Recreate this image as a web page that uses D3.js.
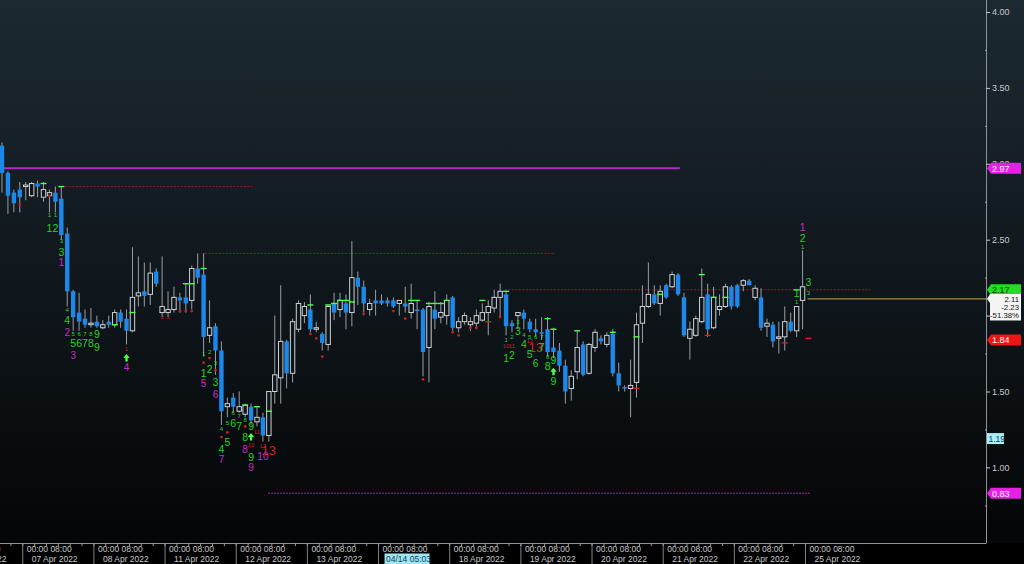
<!DOCTYPE html>
<html><head><meta charset="utf-8">
<script src="https://cdn.jsdelivr.net/npm/d3@7"></script>
<style>html,body{margin:0;padding:0;background:#000;overflow:hidden}text{font-family:"Liberation Sans",Arial,sans-serif}</style>
</head><body><svg id="c" width="1024" height="564"></svg>
<script>
// ---------- DATA (2-hour bars, index 0..135) ----------
const openV  = [3.12,2.94,2.81,2.83,2.85,2.79,2.87,2.78,2.79,2.81,2.77,2.54,2.16,2.02,1.98,1.94,1.96,1.92,1.96,1.94,2.02,1.98,1.90,2.13,2.16,2.14,2.29,2.02,2.02,2.04,2.12,2.12,2.10,2.31,2.27,1.87,1.93,1.77,1.40,1.46,1.37,1.35,1.40,1.30,1.33,1.21,1.50,1.59,1.83,1.62,1.91,2.00,2.04,1.91,1.88,1.81,2.08,2.04,2.08,2.02,2.25,2.19,2.04,2.10,2.10,2.10,2.10,2.08,2.08,2.02,2.04,2.04,1.79,2.04,1.99,2.00,2.12,1.92,1.96,1.94,1.95,1.97,2.02,2.05,2.12,2.14,1.95,2.00,2.02,1.96,1.91,1.89,1.91,1.79,1.77,1.67,1.52,1.63,1.81,1.62,1.79,1.85,1.81,1.88,1.62,1.53,1.52,1.56,1.95,2.06,2.14,2.08,2.20,2.19,2.27,2.12,1.85,1.87,1.96,2.14,1.92,2.04,2.06,2.19,2.20,2.20,2.23,2.12,2.12,1.93,1.94,1.85,1.86,1.96,1.90,2.10];
const highV  = [3.14,2.95,2.83,2.88,2.88,2.88,2.89,2.88,2.83,2.85,2.85,2.58,2.17,2.15,2.04,2.05,2.00,1.97,2.00,2.04,2.04,2.04,2.45,2.39,2.35,2.35,2.31,2.39,2.16,2.19,2.15,2.21,2.33,2.41,2.41,2.10,1.95,1.83,1.46,1.49,1.50,1.42,1.42,1.40,1.36,1.50,2.00,2.20,1.84,1.98,2.10,2.09,2.14,1.96,1.89,2.07,2.15,2.15,2.14,2.49,2.29,2.23,2.11,2.17,2.14,2.12,2.12,2.10,2.19,2.21,2.10,2.05,2.09,2.16,2.09,2.14,2.13,1.99,2.02,1.99,2.04,2.08,2.10,2.17,2.21,2.16,1.97,2.02,2.04,1.98,1.98,1.99,1.99,1.92,1.82,1.71,1.64,1.90,1.83,1.82,1.91,1.87,1.89,1.91,1.69,1.54,1.71,2.02,2.20,2.35,2.20,2.20,2.21,2.29,2.28,2.15,1.96,2.00,2.31,2.21,2.19,2.14,2.21,2.20,2.21,2.24,2.24,2.20,2.18,1.98,1.96,1.96,2.06,2.02,2.06,2.43];
const lowV   = [2.81,2.67,2.68,2.68,2.76,2.78,2.78,2.75,2.68,2.68,2.50,2.06,1.90,1.90,1.92,1.92,1.92,1.91,1.92,1.92,1.92,1.81,1.89,2.06,2.06,2.07,2.19,1.99,1.99,2.02,2.02,2.02,2.04,2.21,1.73,1.82,1.61,1.28,1.33,1.36,1.36,1.33,1.28,1.27,1.17,1.17,1.42,1.42,1.52,1.56,1.89,1.95,1.89,1.89,1.77,1.77,1.97,1.99,1.91,1.93,2.07,2.02,2.00,2.00,2.07,2.06,2.05,2.00,2.02,1.98,1.91,1.60,1.56,1.91,1.95,1.94,1.90,1.89,1.94,1.90,1.91,1.96,1.87,2.02,1.99,1.87,1.89,1.91,1.91,1.89,1.86,1.84,1.73,1.72,1.63,1.42,1.44,1.58,1.60,1.61,1.76,1.81,1.79,1.60,1.50,1.50,1.33,1.46,1.82,2.05,2.07,2.00,2.11,2.18,2.13,1.86,1.71,1.86,1.95,1.86,1.91,2.00,2.05,2.04,2.05,2.16,2.20,2.10,1.90,1.86,1.79,1.75,1.77,1.89,1.86,1.91];
const closeV = [2.94,2.79,2.74,2.78,2.86,2.87,2.85,2.83,2.81,2.75,2.53,2.16,1.99,1.96,1.94,1.95,1.93,1.94,1.94,2.02,1.96,1.90,2.12,2.15,2.13,2.28,2.21,2.06,2.04,2.12,2.10,2.08,2.31,2.25,1.86,1.92,1.77,1.37,1.42,1.40,1.40,1.41,1.31,1.33,1.21,1.50,1.61,1.83,1.62,1.96,2.08,2.06,1.91,1.92,1.82,2.06,2.02,2.10,2.02,2.25,2.19,2.08,2.08,2.08,2.08,2.08,2.06,2.10,2.06,2.08,2.03,1.76,2.06,1.98,2.02,2.10,1.92,1.96,2.00,1.96,2.00,2.02,2.06,2.12,2.16,1.93,1.93,2.02,1.98,1.91,1.89,1.88,1.76,1.76,1.67,1.50,1.60,1.79,1.61,1.81,1.89,1.83,1.87,1.62,1.54,1.52,1.54,1.94,2.06,2.14,2.08,2.16,2.12,2.27,2.14,1.87,1.91,1.98,2.12,1.91,2.12,2.06,2.19,2.06,2.06,2.23,2.20,2.18,1.92,1.95,1.83,1.86,1.96,1.90,2.06,2.19];

// x-axis day boxes
const dayStartBar = [-8,4,16,28,40,52,64,76,88,100,112,124,136];
const dayLabels   = ["06 Apr 2022","07 Apr 2022","08 Apr 2022","11 Apr 2022","12 Apr 2022","13 Apr 2022","04/14 05:03","18 Apr 2022","19 Apr 2022","20 Apr 2022","21 Apr 2022","22 Apr 2022","25 Apr 2022"];
const sessionLabel = "00:00 08:00";
const highlightDay = "04/14 05:03";

// y-axis
const yMajor = [1.00,1.50,2.00,2.50,3.00,3.50,4.00];
const yMinor = [0.75,1.25,1.75,2.25,2.75,3.25,3.75];

// horizontal levels
const levelValue   = [2.97,2.85,2.41,2.17,0.83];
const levelFromBar = [-1,10.1,34.2,84.8,44.9];
const levelToBar   = [114.3,42.2,93.3,146.4,136.3];
const levelKind    = ["solidM","dotR","dotR","dotR","dotM"];
const lastPrice = 2.11;

// right-side price tags
const tagValue = [2.97,2.17,1.84,1.19,0.83];
const tagText  = ["2.97","2.17","1.84","1.19","0.83"];
const tagKind  = ["mag","grn","red","cyan","mag"];
const lastBoxLines = ["2.11","-2.23","-51.38%"];

// TD sequential annotations: bar, price level, text, kind
const tdBar   = [8,9,8,9,10,10,10,11,11,11,12,13,14,15,16,12,13,14,15,16,12,21,21,21,27,28,30,31,32,3,8,
  34,35,34,35,34,35,36,36,36,34,36,37,37,37,37,38,38,38,39,39,40,40,41,41,41,41,42,42,42,42,42,43,44,45,44,
  52,53,54,61,66,68,71,76,77,79,80,82,84,
  85,86,85,86,85,86,87,87,88,88,89,89,90,89,90,91,91,90,92,92,93,93,93,
  135,135,135,134,134,136,136,136,107,119,132];
const tdLevel = [2.66,2.66,2.58,2.58,2.49,2.42,2.35,2.04,1.97,1.89,1.88,1.88,1.88,1.88,1.88,1.82,1.82,1.82,1.82,1.79,1.74,1.78,1.72,1.66,1.99,1.99,2.03,2.03,2.03,2.73,2.79,
  1.75,1.76,1.69,1.72,1.62,1.65,1.69,1.64,1.56,1.55,1.48,1.25,1.20,1.12,1.05,1.29,1.23,1.17,1.36,1.29,1.34,1.27,1.31,1.27,1.20,1.12,1.27,1.20,1.15,1.07,1.00,1.23,1.14,1.11,1.07,
  1.88,1.85,1.73,2.01,2.03,1.98,1.58,1.89,1.87,1.92,1.92,1.96,1.99,
  1.84,1.86,1.80,1.80,1.72,1.74,1.96,1.90,1.87,1.81,1.83,1.75,1.79,1.86,1.86,1.86,1.79,1.69,1.73,1.67,1.71,1.63,1.57,
  2.58,2.51,2.45,2.15,2.09,2.22,2.15,1.85,1.52,1.87,1.82];
const tdText  = ["1","1","1","2","3","3","1","4","4","2","5","6","7","8","9","5","6","7","8","9","3","1","","4","2","3","","","","","",
  "1","2","","","1","2","3","","3","5","6","4","","4","7","5","","5","6","6","7","7","8","","8","8","9","","10","9","9","11","12","13","10",
  "","","","","","","","","","","","","",
  "1","2","10","11","1","2","3","3","4","4","12","5","13","5","6","7","7","6","8","8","9","","9",
  "1","2","1","1","1","3","3","","","",""];
const tdKind  = ["g","g","G","G","g","G","M","g","G","M","g","g","g","g","G","G","G","G","G","G","M","r","ga","M","r","r","rd","rd","rd","rd","rd",
  "g","g","rd","rd","G","G","g","rd","G","M","M","g","rd","G","M","g","rd","G","g","G","g","G","g","rd","G","M","G","ga","r","G","M","r","r","R","M",
  "rd","rd","rd","rd","rd","rd","rd","rd","rd","rd","rd","rdash","rd",
  "g","g","r","r","G","G","g","G","g","G","r","G","R","g","g","g","G","G","g","G","G","ga","G",
  "M","G","g","G","g","G","g","rdash","rdash","rdash","rdash"];

// TD setup-high dashes
const gDashBar   = [7,10,19,22,31,32,34,41,43,45,52,55,56,57,58,59,69,70,72,73,74,75,81,85,92,93,97,103,107,111,118,120,122,134];
const gDashLevel = [2.87,2.85,1.94,2.02,2.21,2.21,2.31,1.41,1.40,1.37,2.07,2.07,2.08,2.10,2.10,2.09,2.10,2.10,2.08,2.08,2.08,2.10,2.10,2.16,1.98,1.91,1.90,1.89,1.86,2.14,2.27,2.12,2.12,2.17];

// ---------- DRAW ----------
const W=1024,H=564,plotR=986,plotB=543;
const svg=d3.select("#c");
const defs=svg.append("defs");
const grad=defs.append("linearGradient").attr("id","bg").attr("x1",0).attr("y1",0).attr("x2",0).attr("y2",1);
grad.append("stop").attr("offset","0%").attr("stop-color","#1c2931");
grad.append("stop").attr("offset","55%").attr("stop-color","#0f161b");
grad.append("stop").attr("offset","100%").attr("stop-color","#040506");
svg.append("rect").attr("width",W).attr("height",plotB).attr("fill","url(#bg)");
svg.append("rect").attr("y",plotB).attr("width",W).attr("height",H-plotB).attr("fill","#000");
defs.append("clipPath").attr("id","clip").append("rect").attr("width",plotR).attr("height",plotB);

const x=d3.scaleLinear().domain([0,135]).range([2,802.55]);
const y=d3.scaleLinear().domain([0.5,4]).range([543.3,12]);
const step=x(1)-x(0);
const ly=y(lastPrice);

const plot=svg.append("g").attr("clip-path","url(#clip)");

// level lines
const lvlStyle={solidM:{c:"#b02cbf",w:2,d:null},dotR:{c:"#8a2222",w:1,d:"2,1.5"},dotM:{c:"#d42ad4",w:1,d:"1.5,1.5"}};
plot.selectAll("line.lvl").data(levelValue).join("line").attr("class","lvl")
 .attr("x1",(d,i)=>x(levelFromBar[i])).attr("x2",(d,i)=>x(levelToBar[i]))
 .attr("y1",d=>y(d)).attr("y2",d=>y(d))
 .attr("stroke",(d,i)=>lvlStyle[levelKind[i]].c).attr("stroke-width",(d,i)=>lvlStyle[levelKind[i]].w)
 .attr("stroke-dasharray",(d,i)=>lvlStyle[levelKind[i]].d);

// last price line
plot.append("line").attr("x1",x(135)+5).attr("x2",plotR).attr("y1",ly).attr("y2",ly)
 .attr("stroke","#c9a646").attr("stroke-width",1);

const bars=openV.map((o,i)=>({i,o,h:highV[i],l:lowV[i],c:closeV[i]}));
const bw=4.4;
const cg=plot.append("g");
cg.selectAll("line.wk").data(bars).join("line").attr("class","wk")
 .attr("x1",d=>x(d.i)).attr("x2",d=>x(d.i)).attr("y1",d=>y(d.h)).attr("y2",d=>y(d.l))
 .attr("stroke","#9a9ea2").attr("stroke-width",1);
cg.selectAll("rect.bd").data(bars).join("rect").attr("class","bd")
 .attr("x",d=>x(d.i)-bw/2).attr("width",bw)
 .attr("y",d=>y(Math.max(d.o,d.c))).attr("height",d=>Math.max(1,Math.abs(y(d.o)-y(d.c))))
 .attr("fill",d=>d.c<d.o?"#1c88ea":"#0e151a")
 .attr("stroke",d=>d.c<d.o?"none":"#cfd2d4").attr("stroke-width",1);

// green dashes
plot.selectAll("line.gd").data(gDashBar).join("line").attr("class","gd")
 .attr("x1",d=>x(d)-3).attr("x2",d=>x(d)+3)
 .attr("y1",(d,i)=>y(gDashLevel[i])).attr("y2",(d,i)=>y(gDashLevel[i]))
 .attr("stroke","#4dff4d").attr("stroke-width",1.4);

// TD annotations
const td=tdBar.map((b,i)=>({b,v:tdLevel[i],t:tdText[i],k:tdKind[i]}));
const txtStyle={g:{c:"#2fd42f",s:6},G:{c:"#27d127",s:10.5},M:{c:"#c92bc9",s:10},r:{c:"#c42020",s:6},R:{c:"#d82222",s:13}};
const ag=plot.append("g");
ag.selectAll("text").data(td.filter(d=>txtStyle[d.k])).join("text")
 .attr("x",d=>x(d.b)).attr("y",d=>y(d.v)).attr("text-anchor","middle").attr("dominant-baseline","central")
 .attr("fill",d=>txtStyle[d.k].c).attr("font-size",d=>txtStyle[d.k].s).text(d=>d.t);
ag.selectAll("circle").data(td.filter(d=>d.k==="rd")).join("circle")
 .attr("cx",d=>x(d.b)).attr("cy",d=>y(d.v)).attr("r",1.4).attr("fill","#c42020");
ag.selectAll("line.rdash").data(td.filter(d=>d.k==="rdash")).join("line").attr("class","rdash")
 .attr("x1",d=>x(d.b)-3).attr("x2",d=>x(d.b)+3).attr("y1",d=>y(d.v)).attr("y2",d=>y(d.v))
 .attr("stroke","#d42020").attr("stroke-width",1.4);
ag.selectAll("path.ga").data(td.filter(d=>d.k==="ga")).join("path").attr("class","ga")
 .attr("transform",d=>`translate(${x(d.b)},${y(d.v)})`)
 .attr("d","M0,-4L3.2,0L1.2,0L1.2,3.5L-1.2,3.5L-1.2,0L-3.2,0Z").attr("fill","#4dff4d");

// frame
svg.append("line").attr("x1",plotR+0.5).attr("x2",plotR+0.5).attr("y1",0).attr("y2",plotB).attr("stroke","#8d9296");
svg.append("line").attr("x1",0).attr("x2",plotR+0.5).attr("y1",plotB+0.5).attr("y2",plotB+0.5).attr("stroke","#8d9296");

// y axis (labels hidden where the last-price box covers them, as in the original)
const fmt=d3.format(".2f");
const coveredByLastBox=v=>y(v)>ly-6&&y(v)<ly+23;
const yAx=svg.append("g").attr("transform",`translate(${plotR},0)`)
 .call(d3.axisRight(y).tickValues(yMajor).tickSize(4).tickPadding(2).tickFormat(d=>coveredByLastBox(d)?"":fmt(d)));
yAx.select(".domain").remove();
yAx.selectAll("line").attr("stroke","#c8c8c8");
yAx.selectAll("text").attr("fill","#c6c9cb").attr("font-size",9).attr("font-family","Liberation Sans, Arial");
const yAx2=svg.append("g").attr("transform",`translate(${plotR-1},0)`)
 .call(d3.axisRight(y).tickValues(yMinor).tickSize(2).tickFormat(""));
yAx2.select(".domain").remove();
yAx2.selectAll("line").attr("stroke","#9aa0a4");

// x axis (day boxes)
const xa=svg.append("g");
const sepX=b=>x(b)-step/2;
xa.selectAll("line.sep").data(dayStartBar).join("line").attr("class","sep")
 .attr("x1",d=>sepX(d)).attr("x2",d=>sepX(d)).attr("y1",plotB).attr("y2",H).attr("stroke","#7d8286");
const minorTicks=d3.range(-8,138,2);
xa.selectAll("line.tk").data(minorTicks).join("line").attr("class","tk")
 .attr("x1",d=>sepX(d)).attr("x2",d=>sepX(d)).attr("y1",plotB).attr("y2",plotB+3).attr("stroke","#9aa0a4");
xa.selectAll("text.ses").data(dayStartBar).join("text").attr("class","ses")
 .attr("x",d=>sepX(d)+4).attr("y",plotB+9).attr("fill","#c6c9cb").attr("font-size",8.5).text(sessionLabel);
xa.selectAll("rect.hl").data(dayLabels.filter(d=>d===highlightDay)).join("rect").attr("class","hl")
 .attr("x",d=>sepX(dayStartBar[dayLabels.indexOf(d)])+6).attr("y",plotB+10.5).attr("width",45).attr("height",10.5).attr("fill","#9fe6ee");
xa.selectAll("text.day").data(dayLabels).join("text").attr("class","day")
 .attr("x",(d,i)=>sepX(dayStartBar[i])+(d===highlightDay?7.5:9)).attr("y",plotB+19)
 .attr("fill",d=>d===highlightDay?"#0c3d66":"#c6c9cb").attr("font-size",8.5).text(d=>d);

// price tags
const tagCol={mag:{bg:"#e61ee6",fg:"#ffffff"},grn:{bg:"#22dd22",fg:"#0a3a0a"},red:{bg:"#ee1414",fg:"#ffffff"},cyan:{bg:"#a9eef2",fg:"#0c3d66"}};
const tg=svg.append("g");
tagValue.forEach((v,i)=>{
  const yy=y(v), k=tagKind[i];
  if(k==="cyan"){
    tg.append("rect").attr("x",plotR+1).attr("y",yy-5.5).attr("width",17).attr("height",11).attr("fill",tagCol[k].bg);
    tg.append("text").attr("x",plotR+2.5).attr("y",yy+3.3).attr("font-size",8.5).attr("fill",tagCol[k].fg).text(tagText[i]);
  } else {
    tg.append("path").attr("d",`M${plotR+1},${yy}L${plotR+5},${yy-5.5}L1021,${yy-5.5}L1021,${yy+5.5}L${plotR+5},${yy+5.5}Z`).attr("fill",tagCol[k].bg);
    tg.append("text").attr("x",plotR+6).attr("y",yy+3.5).attr("font-size",9).attr("fill",tagCol[k].fg).text(tagText[i]);
  }
});
// last price box
tg.append("path").attr("d",`M${plotR+1},${ly}L${plotR+4},${ly-5}L1021,${ly-5}L1021,${ly+21.5}L${plotR+4},${ly+21.5}L${plotR+4},${ly+4}Z`).attr("fill","#f4f4f4");
tg.selectAll("text.lb").data(lastBoxLines).join("text").attr("class","lb")
 .attr("x",1019).attr("y",(d,i)=>ly+2.6+i*8.3).attr("text-anchor","end").attr("font-size",7.8).attr("fill","#111").text(d=>d);
</script></body></html>
